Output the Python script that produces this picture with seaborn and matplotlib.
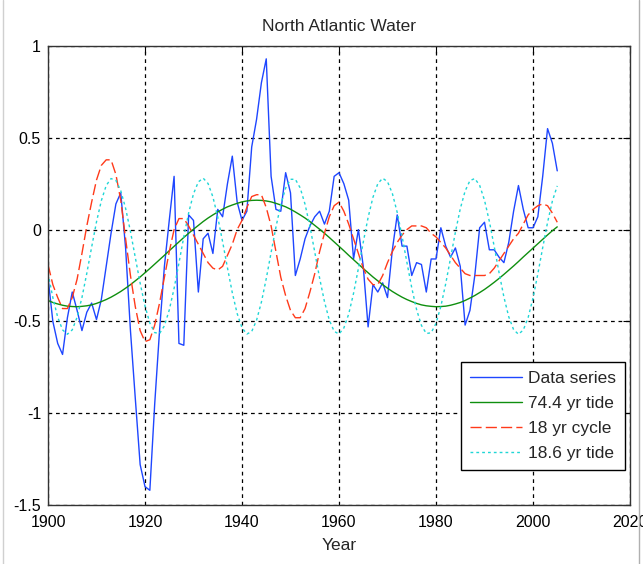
import numpy as np
import pandas as pd
import matplotlib
matplotlib.use("Agg")
import matplotlib.pyplot as plt
from matplotlib.lines import Line2D
import seaborn as sns

years = list(range(1900, 2006))

data_series = [
    -0.26, -0.50, -0.62, -0.68, -0.48, -0.34, -0.44, -0.55, -0.45, -0.40,
    -0.49, -0.38, -0.20, -0.02, 0.14, 0.20, -0.10, -0.55, -0.92, -1.28,
    -1.40, -1.42, -0.95, -0.55, -0.20, 0.05, 0.29, -0.62, -0.63, 0.08,
    0.05, -0.34, -0.05, -0.02, -0.13, 0.11, 0.07, 0.25, 0.40, 0.15,
    0.05, 0.10, 0.45, 0.60, 0.80, 0.93, 0.29, 0.11, 0.10, 0.31,
    0.20, -0.25, -0.16, -0.05, 0.02, 0.07, 0.10, 0.03, 0.10, 0.29,
    0.31, 0.25, 0.16, -0.16, 0.00, -0.20, -0.53, -0.30, -0.34, -0.29,
    -0.37, -0.11, 0.08, -0.09, -0.09, -0.25, -0.18, -0.19, -0.34, -0.16,
    -0.16, 0.01, -0.09, -0.15, -0.10, -0.20, -0.52, -0.44, -0.25, 0.01,
    0.04, -0.11, -0.11, -0.15, -0.18, -0.07, 0.10, 0.24, 0.11, 0.01,
    0.01, 0.07, 0.29, 0.55, 0.47, 0.32,
]

tide_74_4 = [
    -0.386, -0.397, -0.405, -0.412, -0.417, -0.419, -0.420, -0.418, -0.415, -0.410,
    -0.402, -0.392, -0.381, -0.368, -0.353, -0.337, -0.319, -0.300, -0.279, -0.258,
    -0.235, -0.212, -0.188, -0.164, -0.140, -0.115, -0.091, -0.067, -0.043, -0.020,
    0.002, 0.023, 0.044, 0.063, 0.080, 0.096, 0.111, 0.124, 0.134, 0.143,
    0.151, 0.156, 0.159, 0.160, 0.159, 0.156, 0.151, 0.143, 0.134, 0.124,
    0.111, 0.096, 0.080, 0.063, 0.044, 0.023, 0.002, -0.020, -0.043, -0.067,
    -0.091, -0.115, -0.140, -0.164, -0.188, -0.212, -0.235, -0.258, -0.279, -0.300,
    -0.319, -0.337, -0.353, -0.368, -0.381, -0.392, -0.402, -0.410, -0.415, -0.418,
    -0.420, -0.419, -0.417, -0.412, -0.405, -0.397, -0.386, -0.373, -0.359, -0.343,
    -0.326, -0.307, -0.287, -0.266, -0.244, -0.221, -0.198, -0.174, -0.149, -0.125,
    -0.101, -0.077, -0.053, -0.029, -0.006, 0.015,
]

cycle_18 = [
    -0.19, -0.30, -0.37, -0.43, -0.43, -0.37, -0.27, -0.13, 0.02, 0.15,
    0.27, 0.35, 0.38, 0.38, 0.30, 0.16, -0.05, -0.25, -0.42, -0.55,
    -0.61, -0.60, -0.52, -0.40, -0.26, -0.12, 0.00, 0.06, 0.06, 0.02,
    -0.03, -0.08, -0.13, -0.18, -0.21, -0.22, -0.20, -0.14, -0.08, 0.00,
    0.05, 0.12, 0.18, 0.19, 0.19, 0.12, 0.02, -0.12, -0.26, -0.36,
    -0.44, -0.48, -0.48, -0.43, -0.34, -0.24, -0.12, -0.02, 0.07, 0.13,
    0.15, 0.10, 0.03, -0.05, -0.13, -0.21, -0.27, -0.30, -0.30, -0.25,
    -0.18, -0.12, -0.07, -0.03, 0.00, 0.02, 0.02, 0.02, 0.01, -0.02,
    -0.04, -0.07, -0.10, -0.14, -0.18, -0.21, -0.24, -0.25, -0.25, -0.25,
    -0.25, -0.24, -0.21, -0.17, -0.13, -0.09, -0.05, -0.02, 0.03, 0.08,
    0.11, 0.13, 0.14, 0.13, 0.09, 0.04,
]

tide_18_6 = [
    -0.238, -0.370, -0.477, -0.546, -0.570, -0.546, -0.477, -0.370, -0.238, -0.095,
    0.042, 0.158, 0.240, 0.278, 0.268, 0.212, 0.116, -0.010, -0.152, -0.292,
    -0.416, -0.509, -0.561, -0.566, -0.524, -0.438, -0.320, -0.182, -0.039, 0.091,
    0.195, 0.260, 0.280, 0.251, 0.178, 0.068, -0.066, -0.208, -0.344, -0.457,
    -0.535, -0.569, -0.555, -0.494, -0.395, -0.267, -0.125, 0.014, 0.136, 0.226,
    0.274, 0.274, 0.227, 0.138, 0.018, -0.122, -0.264, -0.392, -0.493, -0.554,
    -0.569, -0.536, -0.460, -0.347, -0.211, -0.069, 0.066, 0.176, 0.250, 0.280,
    0.261, 0.197, 0.094, -0.036, -0.178, -0.317, -0.436, -0.522, -0.566, -0.562,
    -0.511, -0.418, -0.295, -0.155, -0.014, 0.113, 0.210, 0.267, 0.278, 0.241,
    0.160, 0.045, -0.092, -0.234, -0.367, -0.475, -0.545, -0.570, -0.547, -0.479,
    -0.373, -0.241, -0.098, 0.039, 0.156, 0.238,
]

labels = ["Data series", "74.4 yr tide", "18 yr cycle", "18.6 yr tide"]
x_ticks = [1900, 1920, 1940, 1960, 1980, 2000, 2020]
y_ticks = [-1.5, -1, -0.5, 0, 0.5, 1]
y_ticklabels = ["-1.5", "-1", "-0.5", "0", "0.5", "1"]

df = pd.DataFrame({
    "Year": years,
    labels[0]: data_series,
    labels[1]: tide_74_4,
    labels[2]: cycle_18,
    labels[3]: tide_18_6,
})

sns.set_style("white")
plt.rcParams["font.family"] = ["Liberation Sans", "DejaVu Sans"]

fig = plt.figure(figsize=(6.43, 5.64), dpi=100)
fig.patch.set_facecolor("white")
ax = fig.add_axes([48 / 643, 59 / 564, 582 / 643, 459 / 564])

styles = [
    dict(color="#1e46ff", linestyle="-"),
    dict(color="#0f8f0f", linestyle="-"),
    dict(color="#ff3a1a", linestyle=(0, (8, 3))),
    dict(color="#1fd6d6", linestyle=(0, (2, 2.2))),
]

handles = []
for name, st in zip(labels, styles):
    sns.lineplot(data=df, x="Year", y=name, ax=ax, color=st["color"],
                 linewidth=1.0, legend=False)
    ax.lines[-1].set_linestyle(st["linestyle"])
    handles.append(Line2D([0], [0], color=st["color"], linewidth=1.0,
                          linestyle=st["linestyle"], label=name))

ax.set_xlim(1900, 2020)
ax.set_ylim(-1.5, 1)
ax.set_xticks(x_ticks)
ax.set_xticklabels([str(t) for t in x_ticks])
ax.set_yticks(y_ticks)
ax.set_yticklabels(y_ticklabels)

ax.grid(True, color="black", linestyle=(0, (3, 3)), linewidth=0.9)
ax.set_axisbelow(True)
ax.tick_params(direction="in", length=5, width=0.8, top=True, right=True,
               labelsize=11.5, colors="black")
ax.tick_params(axis="x", pad=7)
ax.tick_params(axis="y", pad=5)
for sp in ax.spines.values():
    sp.set_color("#333333")
    sp.set_linewidth(1.0)
    sp.set_visible(True)

ax.set_xlabel("Year", fontsize=12.5, labelpad=6)
ax.set_ylabel("")
ax.set_title("North Atlantic Water", fontsize=12.5, pad=11)

leg = ax.legend(handles=handles, loc="lower right", fontsize=12.5,
                frameon=True, fancybox=False, edgecolor="black",
                framealpha=1.0, handlelength=3.0, handletextpad=0.35,
                borderpad=0.5, labelspacing=0.58, borderaxespad=0.0,
                bbox_to_anchor=(0.9914, 0.0763))
leg.get_frame().set_linewidth(1.0)

# thin window borders at the left and right edges
fig.add_artist(Line2D([3 / 643, 3 / 643], [0, 1], transform=fig.transFigure,
                      color="#d0d0d0", linewidth=1.0))
fig.add_artist(Line2D([639 / 643, 639 / 643], [0, 1], transform=fig.transFigure,
                      color="#b0b0b0", linewidth=1.0))

fig.savefig("out.png", dpi=100, facecolor="white")
